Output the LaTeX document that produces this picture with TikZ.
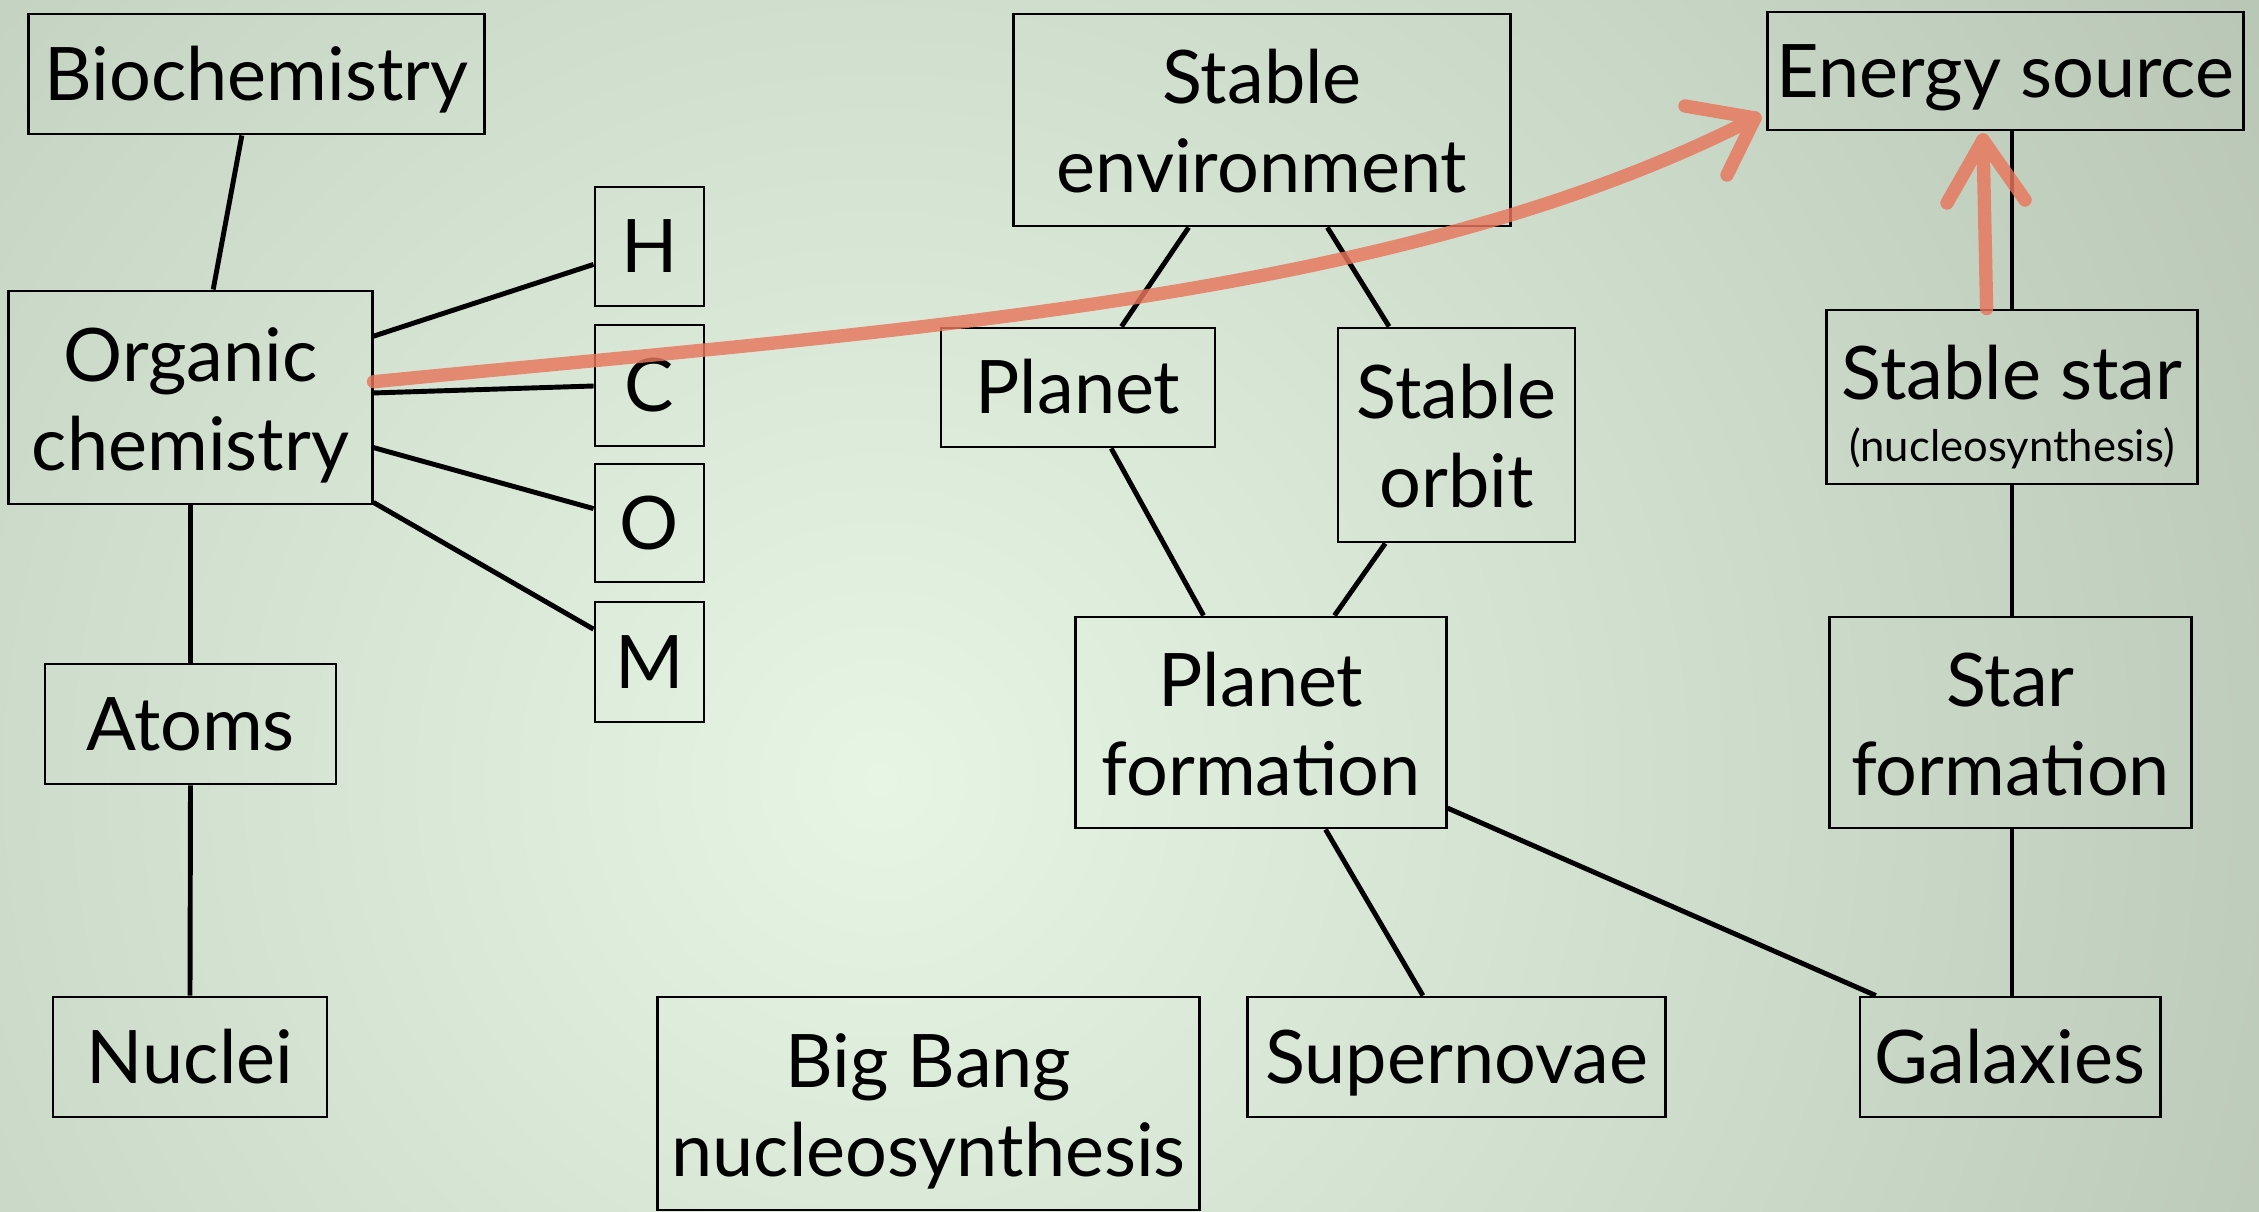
\documentclass[tikz,border=0pt]{standalone}
\usepackage{fontspec}
\setmainfont{Lato}
\usetikzlibrary{calc}

\definecolor{bginner}{HTML}{E7F6E4}
\definecolor{bgouter}{HTML}{8A9687}
\definecolor{crayon}{HTML}{E8765C}

% stacked lines, baseline on the first line
\newcommand{\boxlines}[1]{\begin{tabular}[t]{@{}c@{}}#1\end{tabular}}

\tikzset{
  box/.style={draw=black, line width=0.8pt, inner sep=0pt,
    font=\fontsize{21}{25.3}\selectfont, text height=15.05pt, text depth=0pt},
  box2/.style={box, text depth=24.2pt},
  link/.style={draw=black, line width=1.4pt},
  crayon stroke/.style={draw=crayon, line width=3.8pt, line cap=round, line join=round},
}

\begin{document}
\begin{tikzpicture}[x=0.01cm, y=-0.01cm]
  % canvas with a soft radial glow
  \useasboundingbox (0,0) rectangle (2259,1212);
  \begin{scope}
    \clip (0,0) rectangle (2259,1212);
    \shade[inner color=bginner, outer color=bgouter] (880,780) circle (3200);
  \end{scope}

  % chemistry column
  \node[box, minimum width=4.55cm, minimum height=1.20cm] (bio) at (256.5,74) {Biochemistry};
  \node[box2, minimum width=3.63cm, minimum height=2.13cm] (org) at (190.5,397.5) {\boxlines{Organic\\chemistry}};
  \node[box, minimum width=1.09cm, minimum height=1.19cm] (h) at (649.5,246.5) {H};
  \node[box, minimum width=1.09cm, minimum height=1.21cm] (c) at (649.5,385.5) {C};
  \node[box, minimum width=1.09cm, minimum height=1.18cm] (o) at (649.5,523) {O};
  \node[box, minimum width=1.09cm, minimum height=1.20cm] (m) at (649.5,662) {M};
  \node[box, minimum width=2.91cm, minimum height=1.20cm] (atoms) at (190.5,724) {Atoms};
  \node[box, minimum width=2.74cm, minimum height=1.20cm] (nuclei) at (190,1057) {Nuclei};
  \node[box2, minimum width=5.41cm, minimum height=2.13cm] (bbn) at (928.5,1103.5) {\boxlines{Big Bang\\nucleosynthesis}};

  % planetary column
  \node[box2, minimum width=4.96cm, minimum height=2.12cm] (env) at (1262,120) {\boxlines{Stable\\environment}};
  \node[box, minimum width=2.74cm, minimum height=1.19cm] (planet) at (1078,387.5) {Planet};
  \node[box2, minimum width=2.37cm, minimum height=2.14cm] (orbit) at (1456.5,435) {\boxlines{Stable\\orbit}};
  \node[box2, minimum width=3.70cm, minimum height=2.11cm] (pform) at (1261,722.5) {\boxlines{Planet\\formation}};
  \node[box, minimum width=4.17cm, minimum height=1.20cm] (super) at (1456.5,1057) {Supernovae};

  % stellar column
  \node[box, minimum width=4.75cm, minimum height=1.18cm] (energy) at (2005.5,71) {Energy source};
  \node[box, text depth=13.4pt, minimum width=3.70cm, minimum height=1.74cm] (sstar) at (2012,397)
    {\boxlines{Stable star\\[-7.9pt]{\fontsize{12.4}{14}\selectfont (nucleosynthesis)}}};
  \node[box2, minimum width=3.61cm, minimum height=2.11cm] (sform) at (2010.5,722.5) {\boxlines{Star\\formation}};
  \node[box, minimum width=3.00cm, minimum height=1.20cm] (gal) at (2010,1057) {Galaxies};

  % connectors
  \draw[link] ($(bio.south west)!0.468!(bio.south east)$) -- ($(org.north west)!0.562!(org.north east)$);
  \draw[link] ($(org.north east)!0.216!(org.south east)$) -- ($(h.north west)!0.647!(h.south west)$);
  \draw[link] ($(org.north east)!0.479!(org.south east)$) -- ($(c.north west)!0.504!(c.south west)$);
  \draw[link] ($(org.north east)!0.732!(org.south east)$) -- ($(o.north west)!0.381!(o.south west)$);
  \draw[link] ($(org.north east)!0.986!(org.south east)$) -- ($(m.north west)!0.233!(m.south west)$);
  \draw[link] (org.south) -- (atoms.north);
  \draw[link] (atoms.south) -- (nuclei.north);

  \draw[link] ($(env.south west)!0.353!(env.south east)$) -- ($(planet.north west)!0.657!(planet.north east)$);
  \draw[link] ($(env.south west)!0.631!(env.south east)$) -- ($(orbit.north west)!0.219!(orbit.north east)$);
  \draw[link] ($(planet.south west)!0.620!(planet.south east)$) -- ($(pform.north west)!0.346!(pform.north east)$);
  \draw[link] ($(orbit.south west)!0.203!(orbit.south east)$) -- ($(pform.north west)!0.697!(pform.north east)$);
  \draw[link] ($(pform.south west)!0.673!(pform.south east)$) -- ($(super.north west)!0.420!(super.north east)$);
  \draw[link] ($(pform.north east)!0.900!(pform.south east)$) -- ($(gal.north west)!0.057!(gal.north east)$);

  \draw[link] (sstar.north |- energy.south) -- (sstar.north);
  \draw[link] (sstar.south) -- (sstar.south |- sform.north);
  \draw[link] (sstar.south |- sform.south) -- (sstar.south |- gal.north);

  % hand-drawn crayon arrows
  \coordinate (tailA) at ($(org.north east)!0.427!(org.south east)$);
  \coordinate (tipA) at (1755,118);
  \coordinate (armA1) at (1685,106);
  \coordinate (armA2) at (1727,175);
  \coordinate (tailB) at ($(sstar.north west)!0.432!(sstar.north east)$);
  \coordinate (tipB) at (1983,140);
  \coordinate (armB1) at (1947,203);
  \coordinate (armB2) at (2025,200);
  \begin{scope}[transparency group, opacity=0.82]
    \draw[crayon stroke] (tailA) .. controls (900,330) and (1400,300) .. (tipA);
    \draw[crayon stroke] (armA1) -- (tipA) -- (armA2);
    \draw[crayon stroke] (tailB) -- (tipB);
    \draw[crayon stroke] (armB1) -- (tipB) -- (armB2);
  \end{scope}
\end{tikzpicture}
\end{document}
